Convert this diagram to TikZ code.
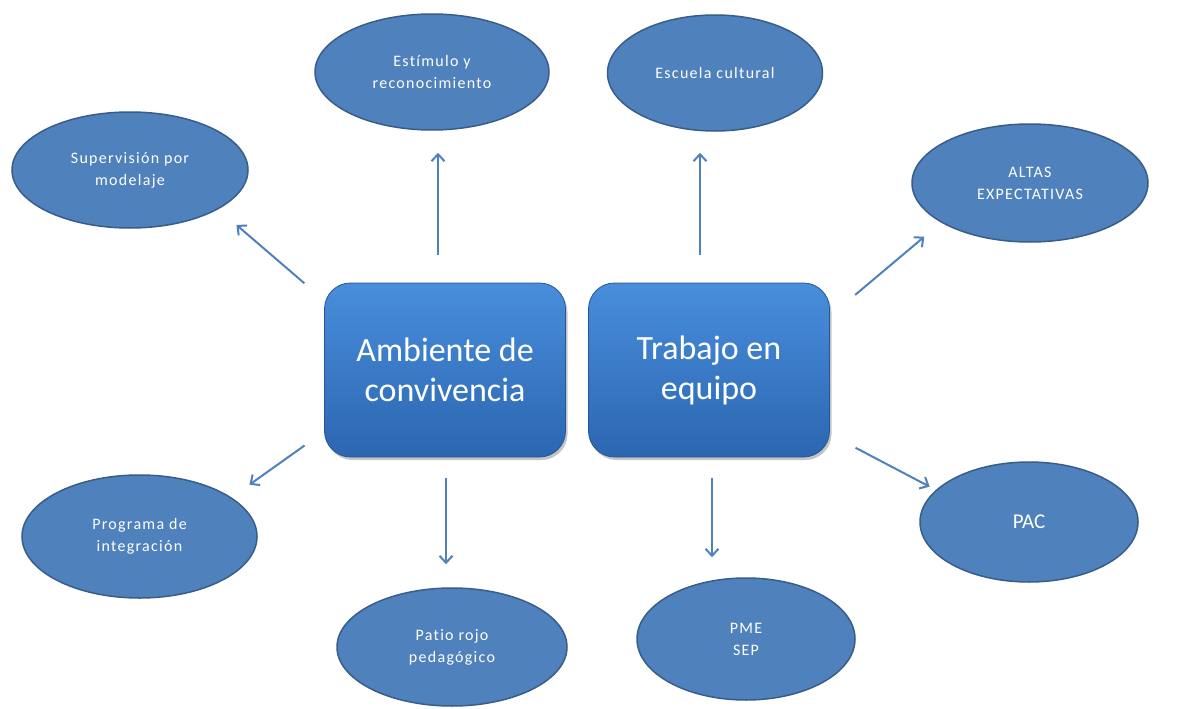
\documentclass[tikz,border=0pt]{standalone}
\usepackage{fontspec}
\setmainfont{Carlito}
\newfontfamily\chica[LetterSpace=8,Ligatures=NoCommon]{Carlito}
\usepackage{tikz}
\usetikzlibrary{arrows.meta,shapes.geometric,shadows,backgrounds}
\definecolor{azul}{RGB}{79,129,189}
\definecolor{azulborde}{RGB}{56,93,138}
\definecolor{cajaarriba}{RGB}{72,142,220}
\definecolor{cajaabajo}{RGB}{44,102,176}

\begin{document}
\begin{tikzpicture}
	[x=1pt,y=-1pt,
	globo/.style={ellipse,draw=azulborde,fill=azul,line width=1.5pt,
		inner sep=0pt,text=white,align=center,font=\chica\fontsize{16}{22}\selectfont},
	caja/.style={rectangle,rounded corners=26pt,top color=cajaarriba,bottom color=cajaabajo,
		draw=cajaabajo!85!black,line width=0.8pt,minimum width=241pt,minimum height=174pt,
		text=white,align=center,font=\fontsize{34}{40}\selectfont,
		drop shadow={opacity=0.45,shadow xshift=2pt,shadow yshift=-3pt}},
	flecha/.style={draw=azul,line width=2pt,-{Straight Barb[length=7pt,width=13pt]}}]
\fill[white] (0,0) rectangle (1184,709);
\useasboundingbox (0,0) rectangle (1184,709);
%cajas del centro
\node[caja] (amb) at (445,370) {Ambiente de\\convivencia};
\node[caja] (eq) at (709,370) {Trabajo en\\equipo};
%globos de arriba
\node[globo,minimum width=234pt,minimum height=116pt] (est) at (432,72) {Estímulo y\\reconocimiento};
\node[globo,minimum width=215pt,minimum height=116pt] (esc) at (715,73) {Escuela cultural};
\node[globo,minimum width=236pt,minimum height=116pt] (sup) at (130,170) {Supervisión por\\modelaje};
\node[globo,minimum width=236pt,minimum height=118pt] (alt) at (1030,183) {ALTAS\\EXPECTATIVAS};
%globos de abajo
\node[globo,minimum width=235pt,minimum height=123pt] (prog) at (139.5,536.5) {Programa de\\integración};
\node[globo,minimum width=230pt,minimum height=118pt] (pat) at (452,647) {Patio rojo\\pedagógico};
\node[globo,minimum width=218pt,minimum height=122pt] (pme) at (746,639) {PME\\SEP};
\node[globo,minimum width=218pt,minimum height=120pt,font=\fontsize{21}{24}\selectfont] (pac) at (1029,522) {PAC};
% flechas
\coordinate (s1) at ([xshift=-7pt]amb.north);
\coordinate (s2) at ([xshift=-9pt]eq.north);
\coordinate (s3) at ([xshift=1pt]amb.south);
\coordinate (s4) at ([xshift=3pt]eq.south);
\draw[flecha,shorten <=28pt,shorten >=22pt] (s1) -- (s1 |- est.south);
\draw[flecha,shorten <=28pt,shorten >=21pt] (s2) -- (s2 |- esc.south);
\draw[flecha,shorten <=21pt,shorten >=23pt] (s3) -- (s3 |- pat.north);
\draw[flecha,shorten <=21pt,shorten >=20pt] (s4) -- (s4 |- pme.north);
\draw[flecha,shorten <=26pt,shorten >=24pt] (amb.150) -- (sup.-24);
\draw[flecha,shorten <=24pt,shorten >=22pt] (amb.207) -- (prog.23);
\draw[flecha,shorten <=33pt,shorten >=22pt] (eq.24) -- (alt.204);
\draw[flecha,shorten <=29pt,shorten >=7pt] (eq.-28) -- (pac.161);
\end{tikzpicture}
\end{document}
